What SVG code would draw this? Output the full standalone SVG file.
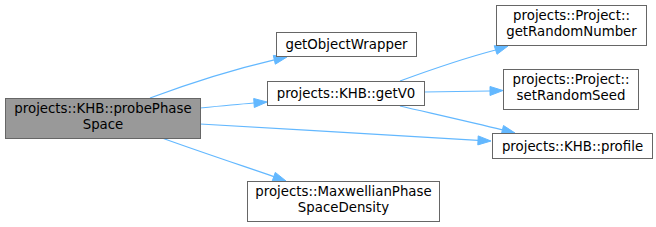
<svg xmlns="http://www.w3.org/2000/svg" width="656" height="227" viewBox="0 0 656 227">
<style>
.n rect{fill:#fff;stroke:#666;stroke-width:1}
.n.main rect{fill:#999}
.n text{font-family:"DejaVu Sans",sans-serif;font-size:13.33px;fill:#000;text-anchor:middle}
.e path{fill:none;stroke:#63b8ff;stroke-width:1.2}
.e polygon{fill:#63b8ff;stroke:#63b8ff;stroke-width:1}
</style>
<rect width="656" height="227" fill="#fff"/>
<g id="connectors" class="e">
<path d="M150,98 C190,83 235,69 274.3,59.8"/>
<polygon points="273.3,55.4 287,57 275.3,64.2"/>
<path d="M200,108 C220,106 235,104.5 254,103"/>
<polygon points="253.7,98.5 267,102 254.3,107.5"/>
<path d="M200,124 C290,129 400,136 478,140.4"/>
<polygon points="478.2,135.9 491,141 477.8,144.9"/>
<path d="M162,138 C195,150 240,165 273.8,176.6"/>
<polygon points="275.3,172.4 286,181 272.3,180.8"/>
<path d="M400,81 C430,70 465,58 495.6,50"/>
<polygon points="494.2,45.7 508,46 497,54.3"/>
<path d="M424,92 C450,91.5 470,91.2 490,91"/>
<polygon points="490,86.5 503,90.5 490,95.5"/>
<path d="M400,106 C430,113 470,122 502.4,129.9"/>
<polygon points="503.5,125.5 515,133 501.3,134.3"/>
</g>
<g id="probePhaseSpace" class="n main">
<rect x="5.5" y="98.5" width="195" height="40"/>
<text x="103" y="113.3">projects::KHB::probePhase</text>
<text x="103" y="129.3">Space</text>
</g>
<g id="getObjectWrapper" class="n">
<rect x="276.5" y="32.5" width="140" height="24"/>
<text x="346.5" y="49">getObjectWrapper</text>
</g>
<g id="getV0" class="n">
<rect x="267.5" y="81.5" width="157" height="24"/>
<text x="346" y="98">projects::KHB::getV0</text>
</g>
<g id="getRandomNumber" class="n">
<rect x="496.5" y="5.5" width="150" height="40"/>
<text x="571.5" y="20.3">projects::Project::</text>
<text x="571.5" y="36.3">getRandomNumber</text>
</g>
<g id="setRandomSeed" class="n">
<rect x="503.5" y="69.5" width="135" height="40"/>
<text x="571" y="84.3">projects::Project::</text>
<text x="571" y="100.3">setRandomSeed</text>
</g>
<g id="profile" class="n">
<rect x="492.5" y="133.5" width="160" height="25"/>
<text x="572.5" y="150.8">projects::KHB::profile</text>
</g>
<g id="MaxwellianPhaseSpaceDensity" class="n">
<rect x="247.5" y="181.5" width="192" height="40"/>
<text x="343.5" y="196.3">projects::MaxwellianPhase</text>
<text x="343.5" y="212.3">SpaceDensity</text>
</g>
</svg>
